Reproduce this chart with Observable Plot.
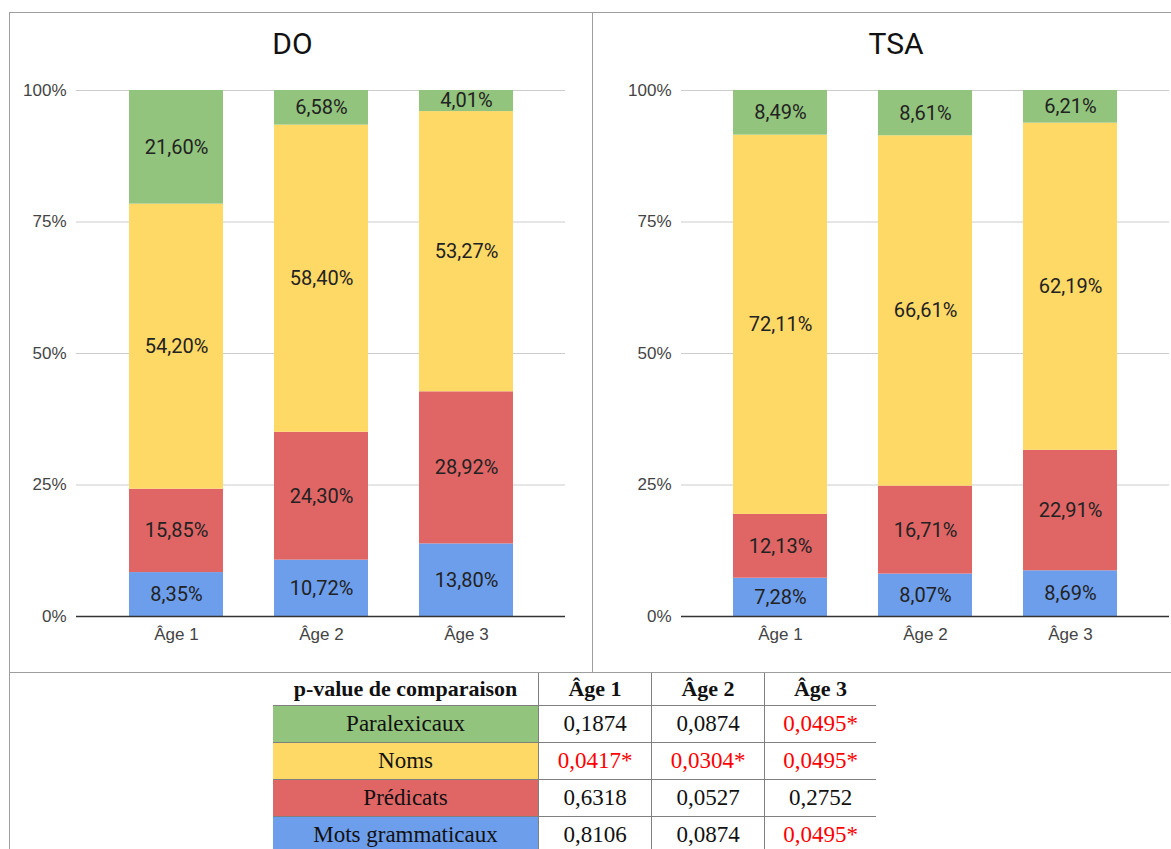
<!DOCTYPE html>
<html>
<head>
<meta charset="utf-8">
<script src="https://cdn.jsdelivr.net/npm/d3@7"></script>
<script src="https://cdn.jsdelivr.net/npm/@observablehq/plot@0.6"></script>
<style>
  html, body { margin: 0; padding: 0; background: #fff; }
  body { width: 1171px; height: 849px; position: relative; overflow: hidden; }
  .frame { position: absolute; left: 9px; top: 12px; width: 1200px; height: 900px; border-left: 1px solid #9e9e9e; border-top: 1px solid #9e9e9e; box-sizing: border-box; }
  .vdiv { position: absolute; left: 592px; top: 12px; width: 1px; height: 661px; background: #9e9e9e; }
  .hdiv { position: absolute; left: 9px; top: 672px; width: 1200px; height: 1px; background: #9e9e9e; }
  .title { position: absolute; top: 26px; font-family: Roboto, "Liberation Sans", sans-serif; font-size: 30px; line-height: 36px; color: #111; text-align: center; }
  .panel { position: absolute; top: 70px; }
  table { position: absolute; left: 273px; top: 673px; border-collapse: collapse; font-family: "Liberation Serif", "Times New Roman", serif; font-size: 23px; color: #111; }
  td, th { padding: 0; text-align: center; }
  th { font-weight: bold; height: 32px; font-size: 22px; }
  td { height: 36px; }
  tr + tr td { border-top: 1px solid #808080; }
  tr:nth-child(2) td { border-top: 1.5px solid #808080; }
  td + td, th + th { border-left: 1px solid #808080; }
  .c0 { width: 265px; }
  .c1, .c2 { width: 112px; }
  .c3 { width: 111px; }
  .red { color: #ff0000; }
</style>
</head>
<body>
<div class="frame"></div>
<div class="vdiv"></div>
<div class="hdiv"></div>
<div id="t0" class="title" style="left:9px;width:567px;"></div>
<div id="t1" class="title" style="left:607px;width:578px;"></div>
<div id="p0" class="panel" style="left:9px;"></div>
<div id="p1" class="panel" style="left:593px;"></div>
<table id="tbl"></table>
<script>
// ---- Data ----
const groups = ["DO", "TSA"];
const ages = ["Âge 1", "Âge 2", "Âge 3"];
const categories = ["Mots grammaticaux", "Prédicats", "Noms", "Paralexicaux"]; // bottom → top
const colors = ["#6d9eeb", "#e06666", "#ffd966", "#93c47d"];

// values per category, per age (percent)
const doMots        = [8.35, 10.72, 13.80];
const doPredicats   = [15.85, 24.30, 28.92];
const doNoms        = [54.20, 58.40, 53.27];
const doParalex     = [21.60, 6.58, 4.01];

const tsaMots       = [7.28, 8.07, 8.69];
const tsaPredicats  = [12.13, 16.71, 22.91];
const tsaNoms       = [72.11, 66.61, 62.19];
const tsaParalex    = [8.49, 8.61, 6.21];

const yTicks = [0, 25, 50, 75, 100];

// p-value table
const tableHeader = ["p-value de comparaison", "Âge 1", "Âge 2", "Âge 3"];
const tableRows = ["Paralexicaux", "Noms", "Prédicats", "Mots grammaticaux"];
const pParalex   = ["0,1874", "0,0874", "0,0495*"];
const pNoms      = ["0,0417*", "0,0304*", "0,0495*"];
const pPredicats = ["0,6318", "0,0527", "0,2752"];
const pMots      = ["0,8106", "0,0874", "0,0495*"];

// ---- Build ----
function rows(series) {
  const out = [];
  ages.forEach((a, i) => {
    categories.forEach((c, k) => out.push({age: a, cat: c, value: series[k][i]}));
  });
  return out;
}
const panels = [
  {name: groups[0], data: rows([doMots, doPredicats, doNoms, doParalex]), width: 584, ml: 67, mr: 28},
  {name: groups[1], data: rows([tsaMots, tsaPredicats, tsaNoms, tsaParalex]), width: 578, ml: 88, mr: 2}
];
const fmt = v => v.toFixed(2).replace(".", ",") + "%";

panels.forEach((p, idx) => {
  document.getElementById("t" + idx).textContent = p.name;
  const chart = Plot.plot({
    width: p.width,
    height: 602,
    marginLeft: p.ml,
    marginRight: p.mr,
    marginTop: 20,
    marginBottom: 56,
    style: {fontFamily: "'Liberation Sans', Arial, sans-serif", fontSize: "17px", color: "#444", background: "transparent"},
    x: {domain: ages, padding: 0.355, label: null, tickSize: 0, tickPadding: 11},
    y: {domain: [0, 100], ticks: yTicks, tickFormat: d => d + "%", label: null, tickSize: 0, tickPadding: 10},
    color: {domain: categories, range: colors},
    marks: [
      Plot.gridY(yTicks, {stroke: "#cccccc", strokeOpacity: 1}),
      Plot.barY(p.data, {x: "age", y: "value", fill: "cat"}),
      Plot.ruleY([0], {stroke: "#333", strokeWidth: 1.3}),
      Plot.text(p.data, Plot.stackY({x: "age", y: "value", text: d => fmt(d.value), fill: "#222",
        fontSize: 20, fontFamily: "Roboto, sans-serif"}))
    ]
  });
  document.getElementById("p" + idx).appendChild(chart);
});

// table
const tbl = document.getElementById("tbl");
const hr = document.createElement("tr");
tableHeader.forEach((h, i) => {
  const th = document.createElement("th");
  th.className = "c" + i;
  th.textContent = h;
  hr.appendChild(th);
});
tbl.appendChild(hr);
const pData = [pParalex, pNoms, pPredicats, pMots];
const rowColors = [colors[3], colors[2], colors[1], colors[0]];
tableRows.forEach((r, i) => {
  const tr = document.createElement("tr");
  const td0 = document.createElement("td");
  td0.className = "c0";
  td0.textContent = r;
  td0.style.background = rowColors[i];
  tr.appendChild(td0);
  pData[i].forEach((v, j) => {
    const td = document.createElement("td");
    td.className = "c" + (j + 1) + (v.endsWith("*") ? " red" : "");
    td.textContent = v;
    tr.appendChild(td);
  });
  tbl.appendChild(tr);
});
</script>
</body>
</html>
